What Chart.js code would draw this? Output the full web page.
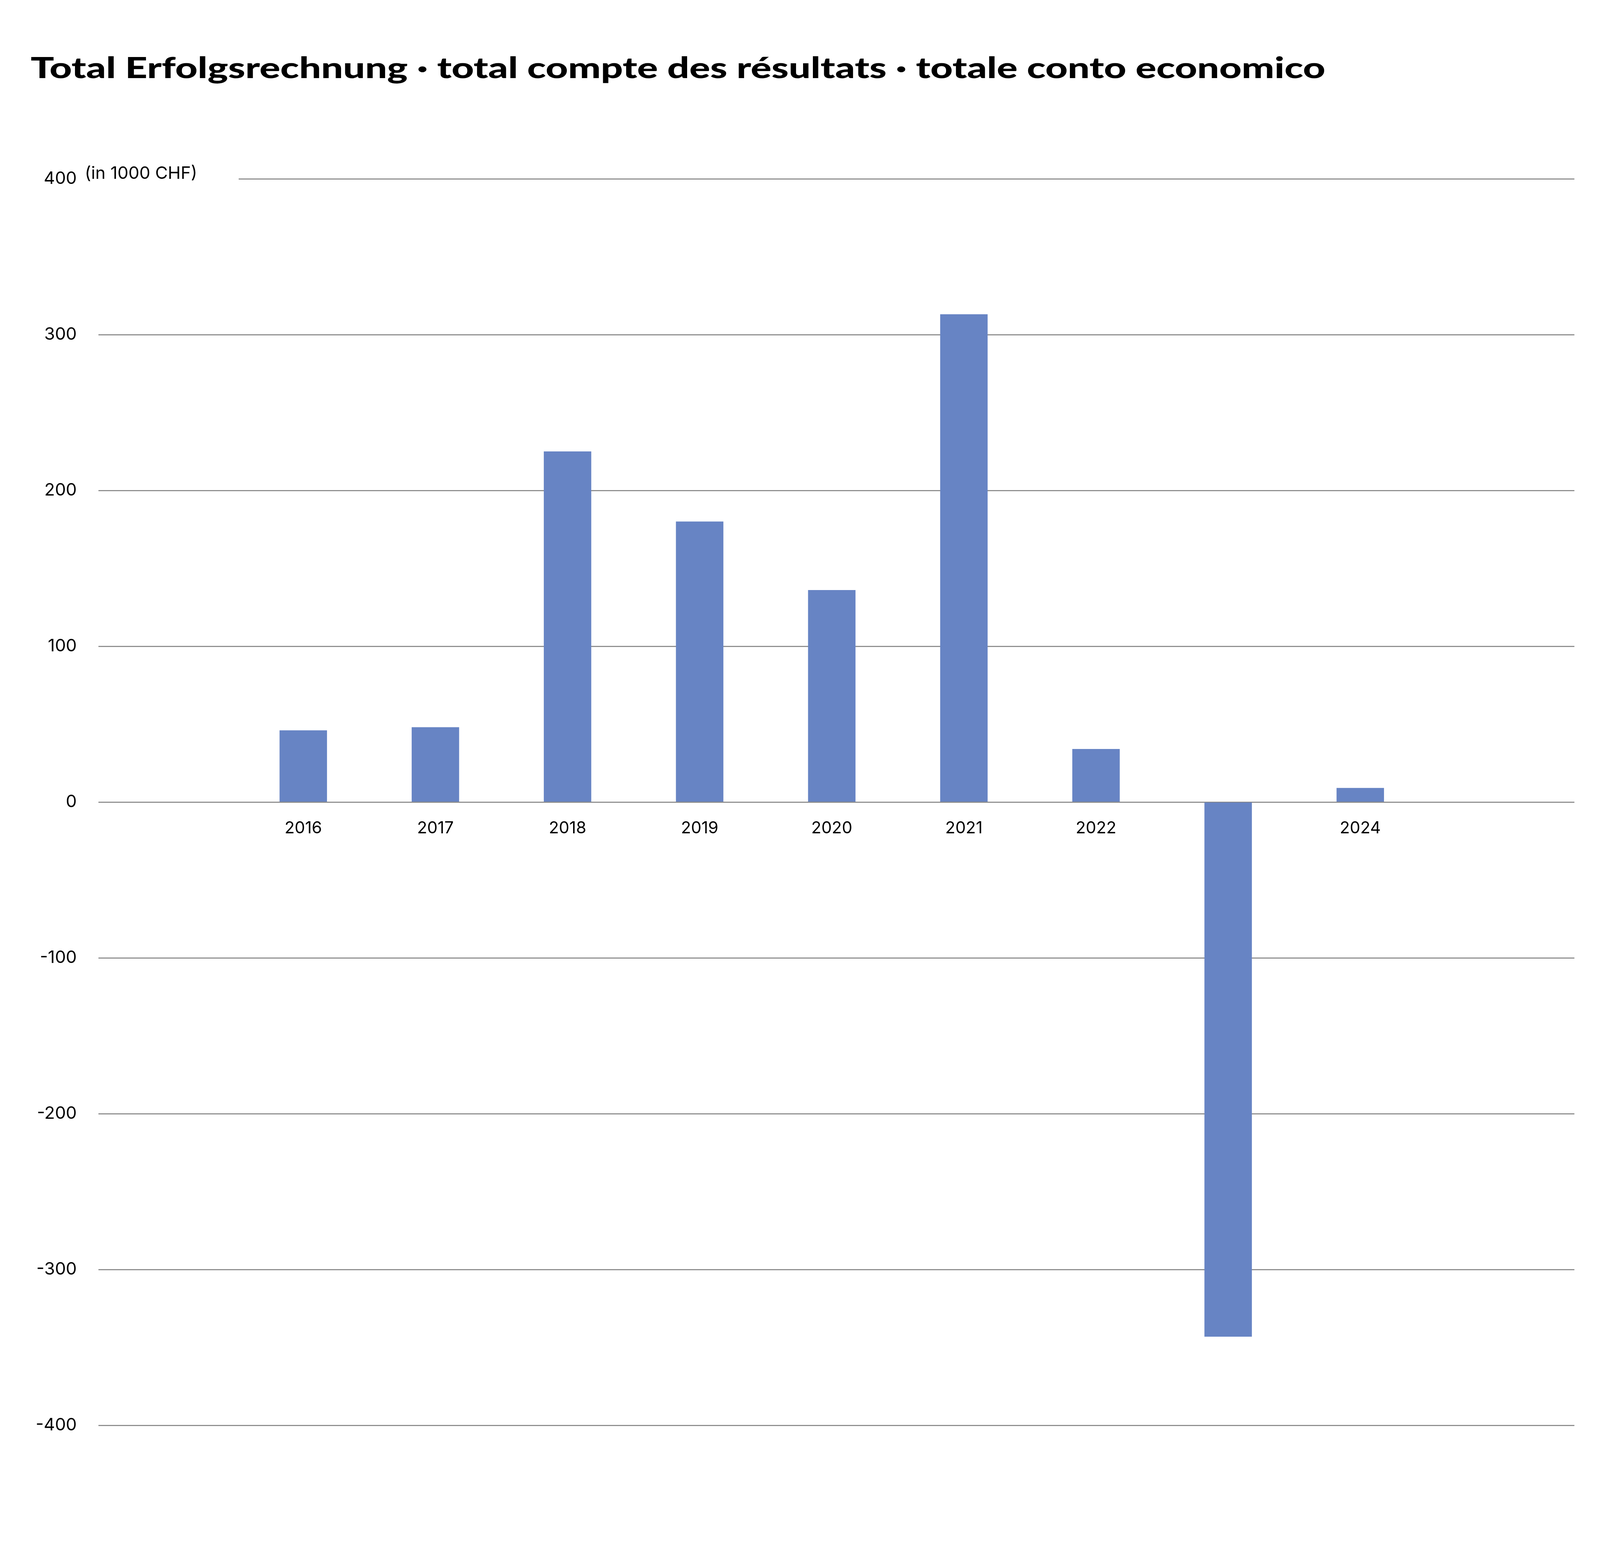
<!DOCTYPE html>
<html>
<head>
<meta charset="utf-8">
<script src="https://cdn.jsdelivr.net/npm/chart.js@4"></script>
<style>
  html, body { margin: 0; padding: 0; background: #fff; overflow: hidden; }
  canvas { display: block; }
</style>
</head>
<body>
<canvas id="chart"></canvas>
<script>
const years = ['2016', '2017', '2018', '2019', '2020', '2021', '2022', '2023', '2024'];
const results = [46, 48, 225, 180, 136, 313, 34, -343, 9];
const yTicks = [-400, -300, -200, -100, 0, 100, 200, 300, 400];

const titleText = 'Total Erfolgsrechnung · total compte des résultats · totale conto economico';
const unitText = '(in 1000 CHF)';

// everything laid out for 6000x4000, scaled to the real window
const W = document.documentElement.clientWidth || window.innerWidth;
const H = document.documentElement.clientHeight || window.innerHeight;
const sx = W / 6000, sy = H / 4000, f = Math.min(sx, sy);

const canvas = document.getElementById('chart');
canvas.width = W;
canvas.height = H;

const textPlugin = {
  id: 'texts',
  afterDraw(chart) {
    const ctx = chart.ctx;
    ctx.save();
    ctx.fillStyle = '#000';
    ctx.textBaseline = 'alphabetic';
    ctx.font = `900 ${110 * f}px Lato`;
    const w = ctx.measureText(titleText).width;
    ctx.translate(115 * sx, 200 * sy);
    ctx.scale(4855 * sx / w, 1);
    ctx.fillText(titleText, 0, 0);
    ctx.restore();

    ctx.save();
    const y = chart.scales.y.getPixelForValue(400);
    ctx.fillStyle = '#fff';
    ctx.fillRect(300 * sx, y - 10 * f, 595 * sx, 20 * f);
    ctx.fillStyle = '#000';
    ctx.font = `${65 * f}px Inter`;
    ctx.textBaseline = 'middle';
    ctx.fillText(unitText, 318 * sx, y - 20 * f);
    ctx.restore();
  }
};

new Chart(canvas, {
  type: 'bar',
  data: {
    datasets: [{
      data: results.map((v, i) => ({ x: i, y: v })),
      backgroundColor: '#6784C4',
      barThickness: 177 * sx
    }]
  },
  options: {
    responsive: false,
    animation: false,
    devicePixelRatio: 1,
    layout: { padding: { left: 0, top: 458 * sy, right: 96 * sx, bottom: 350 * sy } },
    plugins: { legend: { display: false }, tooltip: { enabled: false } },
    scales: {
      x: {
        type: 'linear',
        min: -0.93,
        max: 9,
        position: { y: 0 },
        afterFit(s) { s.height = 0; },
        afterBuildTicks(s) { s.ticks = years.map((_, i) => ({ value: i })); },
        grid: { display: false },
        border: { display: false },
        ticks: {
          callback: v => years[v],
          font: { family: 'Inter', size: 62 * f },
          color: '#000',
          padding: 50 * f,
          maxRotation: 0,
          autoSkip: false
        }
      },
      y: {
        min: -400,
        max: 400,
        afterFit(s) { s.width = 369 * sx; },
        afterBuildTicks(s) { s.ticks = yTicks.map(v => ({ value: v })); },
        grid: { color: '#888', lineWidth: Math.max(1, 4 * f), drawTicks: false },
        border: { display: false },
        ticks: {
          font: { family: 'Inter', size: 65 * f },
          color: '#000',
          padding: 81 * sx
        }
      }
    }
  },
  plugins: [textPlugin]
});
</script>
</body>
</html>
